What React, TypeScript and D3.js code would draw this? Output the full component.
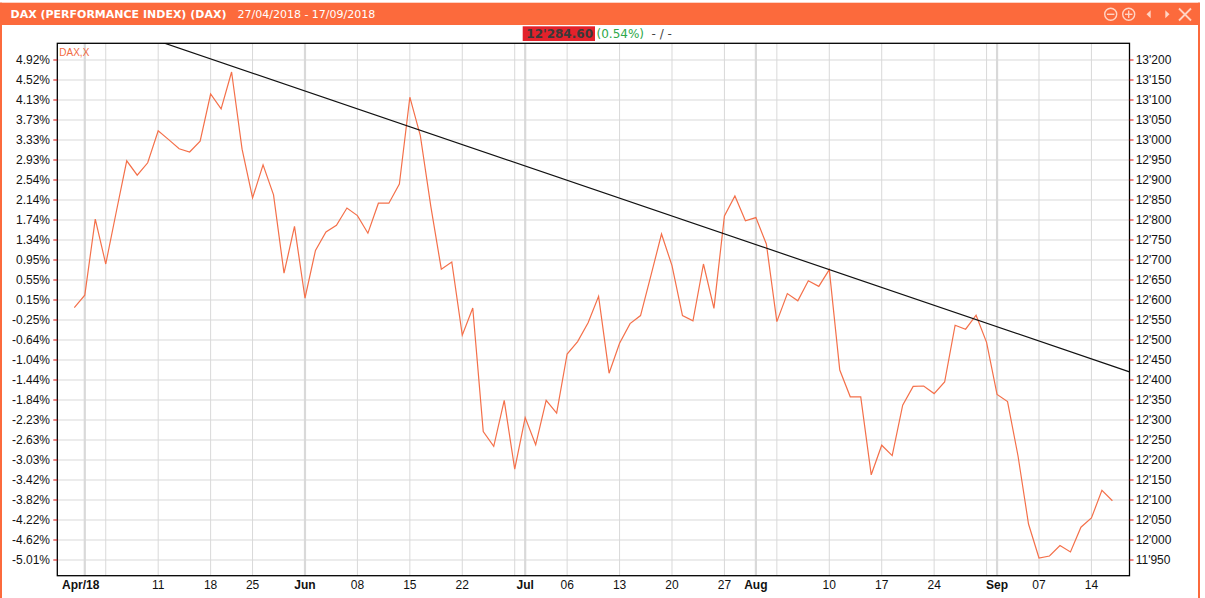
import * as d3 from "d3";
import React from "react";

// trading days shown on the chart (x axis is an index over these)
const dates = [
  "2018-04-27", "2018-04-30", "2018-05-02", "2018-05-03", "2018-05-04", "2018-05-07", "2018-05-08",
  "2018-05-09", "2018-05-10", "2018-05-11", "2018-05-14", "2018-05-15", "2018-05-16", "2018-05-17",
  "2018-05-18", "2018-05-22", "2018-05-23", "2018-05-24", "2018-05-25", "2018-05-28", "2018-05-29",
  "2018-05-30", "2018-05-31", "2018-06-01", "2018-06-04", "2018-06-05", "2018-06-06", "2018-06-07",
  "2018-06-08", "2018-06-11", "2018-06-12", "2018-06-13", "2018-06-14", "2018-06-15", "2018-06-18",
  "2018-06-19", "2018-06-20", "2018-06-21", "2018-06-22", "2018-06-25", "2018-06-26", "2018-06-27",
  "2018-06-28", "2018-06-29", "2018-07-02", "2018-07-03", "2018-07-04", "2018-07-05", "2018-07-06",
  "2018-07-09", "2018-07-10", "2018-07-11", "2018-07-12", "2018-07-13", "2018-07-16", "2018-07-17",
  "2018-07-18", "2018-07-19", "2018-07-20", "2018-07-23", "2018-07-24", "2018-07-25", "2018-07-26",
  "2018-07-27", "2018-07-30", "2018-07-31", "2018-08-01", "2018-08-02", "2018-08-03", "2018-08-06",
  "2018-08-07", "2018-08-08", "2018-08-09", "2018-08-10", "2018-08-13", "2018-08-14", "2018-08-15",
  "2018-08-16", "2018-08-17", "2018-08-20", "2018-08-21", "2018-08-22", "2018-08-23", "2018-08-24",
  "2018-08-27", "2018-08-28", "2018-08-29", "2018-08-30", "2018-08-31", "2018-09-03", "2018-09-04",
  "2018-09-05", "2018-09-06", "2018-09-07", "2018-09-10", "2018-09-11", "2018-09-12", "2018-09-13",
  "2018-09-14", "2018-09-17",
];

const closes = [
  12581, 12612, 12802, 12690, 12820, 12948, 12912, 12943, 13023, 13001, 12978, 12970, 12997, 13115,
  13078, 13170, 12977, 12855, 12938, 12863, 12667, 12784, 12605, 12724, 12770, 12787, 12830, 12811,
  12767, 12842, 12842, 12890, 13107, 13011, 12834, 12677, 12695, 12512, 12580, 12271, 12234, 12349,
  12177, 12306, 12238, 12349, 12317, 12465, 12496, 12543, 12609, 12417, 12492, 12541, 12561, 12662,
  12765, 12686, 12561, 12548, 12690, 12579, 12810, 12860, 12798, 12806, 12740, 12546, 12616, 12598,
  12648, 12634, 12676, 12425, 12358, 12358, 12163, 12237, 12211, 12337, 12384, 12385, 12366, 12395,
  12537, 12527, 12562, 12494, 12364, 12346, 12210, 12040, 11955, 11960, 11986, 11970, 12032, 12055,
  12124, 12098,
];

const priceTicks = [
  13200, 13150, 13100, 13050, 13000, 12950, 12900, 12850, 12800, 12750, 12700, 12650, 12600,
  12550, 12500, 12450, 12400, 12350, 12300, 12250, 12200, 12150, 12100, 12050, 12000, 11950,
];

const pctLabels = [
  "4.92%", "4.52%", "4.13%", "3.73%", "3.33%", "2.93%", "2.54%", "2.14%", "1.74%", "1.34%",
  "0.95%", "0.55%", "0.15%", "-0.25%", "-0.64%", "-1.04%", "-1.44%", "-1.84%", "-2.23%",
  "-2.63%", "-3.03%", "-3.42%", "-3.82%", "-4.22%", "-4.62%", "-5.01%",
];

// month boundaries (bold labels, wide grid lines)
const monthTickDates = ["2018-05-01", "2018-06-01", "2018-07-01", "2018-08-01", "2018-09-01"];
const monthTickLabels = ["Apr/18", "Jun", "Jul", "Aug", "Sep"];

// weekly (friday) lines, blank label where it would collide with a month label
const weekTickDates = [
  "2018-05-04", "2018-05-11", "2018-05-18", "2018-05-25", "2018-06-08", "2018-06-15", "2018-06-22",
  "2018-06-29", "2018-07-06", "2018-07-13", "2018-07-20", "2018-07-27", "2018-08-03", "2018-08-10",
  "2018-08-17", "2018-08-24", "2018-08-31", "2018-09-07", "2018-09-14",
];
const weekTickLabels = [
  "", "11", "18", "25", "08", "15", "22", "", "06", "13", "20", "27", "", "10", "17", "24", "",
  "07", "14",
];

// hand drawn resistance line, given by two points it passes through
const trendDates = ["2018-08-09", "2018-08-29"];
const trendValues = [12676, 12551];

const W = 1205;
const H = 598;
const frame = { left: 57.3, right: 1129.5, top: 43.3, bottom: 575.7 };
const orange = "#fc6a3c";
const lineColor = "#f4704a";
const axisFont = "'Liberation Sans', Arial, sans-serif";
const headFont = "'DejaVu Sans', Verdana, sans-serif";

// grid lines sit at the close of the last session before the date
const gridIndex = (d: string) => d3.bisectLeft(dates, d) - 1;

export default function App() {
  const x = d3.scaleLinear().domain([0, dates.length - 1]).range([74.3, 1112.4]);
  const y = d3.scaleLinear().domain([11950, 13200]).range([560, 60]);

  const line = d3
    .line<number>()
    .x((_, i) => x(i))
    .y((d) => y(d));

  const t0 = dates.indexOf(trendDates[0]);
  const t1 = dates.indexOf(trendDates[1]);
  const slope = (trendValues[1] - trendValues[0]) / (t1 - t0);
  const [dMin, dMax] = x.invert ? [x.invert(frame.left), x.invert(frame.right)] : [0, 0];
  const trendAt = (i: number) => trendValues[0] + slope * (i - t0);

  const fmtPrice = (v: number) => d3.format(",")(v).replace(",", "'");

  return (
    <svg
      width={W}
      height={H}
      style={{ position: "absolute", left: 0, top: 0, background: "#fff" }}
    >
      <defs>
        <clipPath id="plot">
          <rect
            x={frame.left}
            y={frame.top}
            width={frame.right - frame.left}
            height={frame.bottom - frame.top}
          />
        </clipPath>
      </defs>

      {/* window frame */}
      <rect x={0} y={2.7} width={1200} height={22.3} fill={orange} />
      <rect x={0} y={2.7} width={2} height={H} fill={orange} />
      <rect x={1198} y={2.7} width={2} height={H} fill={orange} />
      <text x={10.5} y={17.5} fill="#fff" fontFamily={headFont} fontSize={11} fontWeight="bold">
        DAX (PERFORMANCE INDEX) (DAX)
      </text>
      <text x={237.5} y={17.5} fill="#fff" fontFamily={headFont} fontSize={11}>
        27/04/2018 - 17/09/2018
      </text>

      {/* window buttons */}
      <g stroke="#ffd4c4" strokeWidth={1.4} fill="none">
        <circle cx={1110.7} cy={14.3} r={6} />
        <line x1={1107} x2={1114.4} y1={14.3} y2={14.3} />
        <circle cx={1128.7} cy={14.3} r={6} />
        <line x1={1125} x2={1132.4} y1={14.3} y2={14.3} />
        <line x1={1128.7} x2={1128.7} y1={10.6} y2={18} />
        <line x1={1179} x2={1191} y1={8.5} y2={20.5} strokeWidth={1.8} />
        <line x1={1191} x2={1179} y1={8.5} y2={20.5} strokeWidth={1.8} />
      </g>
      <path d="M1146.5,14.3 L1150.7,10.3 L1150.7,18.3 Z" fill="#ffd4c4" />
      <path d="M1169.5,14.3 L1165.3,10.3 L1165.3,18.3 Z" fill="#ffd4c4" />

      {/* last value */}
      <rect x={522.7} y={26.3} width={72.3} height={14.7} fill="#e3222b" />
      <text x={526.3} y={38.4} fill="#3a3a3a" fontFamily={headFont} fontSize={12} fontWeight="bold">
        12'284.60
      </text>
      <text x={596.5} y={38.4} fill="#2ea84a" fontFamily={headFont} fontSize={12}>
        (0.54%)
      </text>
      <text x={651.5} y={38.4} fill="#444" fontFamily={headFont} fontSize={12}>
        - / -
      </text>

      {/* horizontal grid */}
      <g stroke="#d9d9d9" strokeWidth={1}>
        {priceTicks.map((v) => (
          <line key={v} x1={frame.left} x2={frame.right} y1={y(v)} y2={y(v)} />
        ))}
      </g>

      {/* vertical grid */}
      <g stroke="#d9d9d9">
        {weekTickDates.map((d) => (
          <line
            key={d}
            x1={x(gridIndex(d))}
            x2={x(gridIndex(d))}
            y1={frame.top}
            y2={frame.bottom}
            strokeWidth={1}
          />
        ))}
        {monthTickDates.map((d) => (
          <line
            key={d}
            x1={x(gridIndex(d))}
            x2={x(gridIndex(d))}
            y1={frame.top}
            y2={frame.bottom}
            strokeWidth={2.2}
          />
        ))}
      </g>

      <g clipPath="url(#plot)">
        <path d={line(closes) ?? ""} fill="none" stroke={lineColor} strokeWidth={1.2} />
        <line
          x1={x(dMin)}
          y1={y(trendAt(dMin))}
          x2={x(dMax)}
          y2={y(trendAt(dMax))}
          stroke="#111"
          strokeWidth={1.2}
        />
      </g>

      <text x={59.3} y={56} fill="#f26a3f" fontFamily={axisFont} fontSize={10}>
        DAX,X
      </text>

      {/* frame */}
      <rect
        x={frame.left}
        y={frame.top}
        width={frame.right - frame.left}
        height={frame.bottom - frame.top}
        fill="none"
        stroke="#000"
        strokeWidth={1.3}
      />

      {/* left axis: change vs. first close */}
      {priceTicks.map((v, i) => (
        <g key={"l" + v}>
          <line x1={frame.left - 4} x2={frame.left} y1={y(v)} y2={y(v)} stroke="#e01010" />
          <text
            x={50}
            y={y(v)}
            dy="0.35em"
            textAnchor="end"
            fontFamily={axisFont}
            fontSize={12}
            fill="#111"
          >
            {pctLabels[i]}
          </text>
        </g>
      ))}

      {/* right axis: index points */}
      {priceTicks.map((v) => (
        <g key={"r" + v}>
          <line x1={frame.right} x2={frame.right + 4} y1={y(v)} y2={y(v)} stroke="#e01010" />
          <text
            x={1135.7}
            y={y(v)}
            dy="0.35em"
            fontFamily={axisFont}
            fontSize={12}
            fill="#111"
          >
            {fmtPrice(v)}
          </text>
        </g>
      ))}

      {/* bottom axis */}
      {weekTickDates.map((d, i) =>
        weekTickLabels[i] ? (
          <text
            key={"wl" + d}
            x={x(gridIndex(d))}
            y={589.3}
            textAnchor="middle"
            fontFamily={axisFont}
            fontSize={12}
            fill="#111"
          >
            {weekTickLabels[i]}
          </text>
        ) : null
      )}
      {monthTickDates.map((d, i) => (
        <text
          key={"ml" + d}
          x={x(gridIndex(d)) - (i === 0 ? 4 : 0)}
          y={589.3}
          textAnchor="middle"
          fontFamily={axisFont}
          fontSize={12}
          fontWeight="bold"
          fill="#111"
        >
          {monthTickLabels[i]}
        </text>
      ))}
    </svg>
  );
}
